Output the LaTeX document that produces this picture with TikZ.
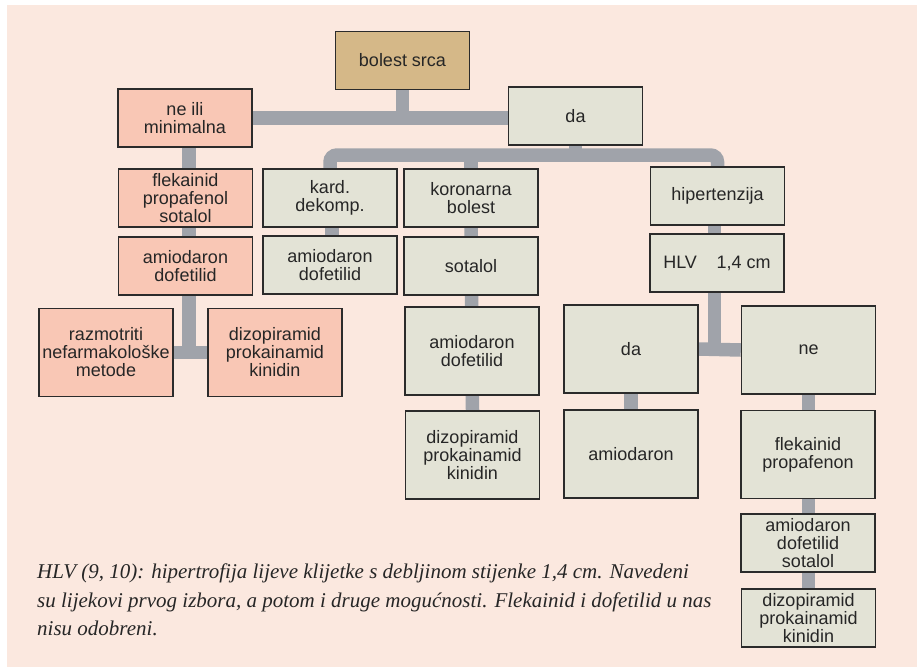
\documentclass[tikz,border=0pt]{standalone}
\usepackage{fontspec}
\setmainfont{Liberation Sans}
\newfontfamily\capfont{Liberation Serif}
\definecolor{bgpeach}{HTML}{FBE8DF}
\definecolor{tan}{HTML}{D5B888}
\definecolor{salmon}{HTML}{F9C7B5}
\definecolor{grbox}{HTML}{E3E3D6}
\definecolor{conncol}{HTML}{A0A3AA}
\definecolor{bordercol}{HTML}{2B2B2B}
\definecolor{txt}{HTML}{262626}
\pgfdeclarelayer{bg}
\pgfdeclarelayer{lines}
\pgfsetlayers{bg,lines,main}
\begin{document}
\begin{tikzpicture}[x=1pt,y=-1pt,
  box/.style={draw=bordercol, line width=1.4pt, inner sep=1pt, align=center,
    font=\fontsize{18}{18}\selectfont, text=txt, minimum width=134pt, minimum height=58pt},
  tall/.style={minimum height=88pt},
  tanbox/.style={box, fill=tan},
  salbox/.style={box, fill=salmon},
  grybox/.style={box, fill=grbox},
  conn/.style={draw=conncol, line width=13.5pt}]
\useasboundingbox (0,0) rectangle (917,667);
\begin{pgfonlayer}{bg}
\fill[bgpeach] (7,5) rectangle (917,667);
\end{pgfonlayer}

% top
\node[tanbox] (bs) at (402.5,60.5) {bolest srca};
\node[salbox] (ne) at (185,118) {ne ili\\minimalna};
\node[grybox] (da) at (575.5,116) {da};

% left branch
\node[salbox] (fps) at (185.5,198) {flekainid\\propafenol\\sotalol};
\node[salbox] (lad) at (185.5,266) {amiodaron\\dofetilid};
\node[salbox, tall] (raz) at (106,352.5) {razmotriti\\nefarmakološke\\metode};
\node[salbox, tall] (ldz) at (275,352.5) {dizopiramid\\prokainamid\\kinidin};

% kard. dekomp.
\node[grybox] (kd) at (330,198) {kard.\\dekomp.};
\node[grybox] (kda) at (330,265) {amiodaron\\dofetilid};

% koronarna bolest
\node[grybox] (kb) at (471,198) {koronarna\\bolest};
\node[grybox] (sot) at (471,266) {sotalol};
\node[grybox, tall] (kam) at (472,351) {amiodaron\\dofetilid};
\node[grybox, tall] (kdz) at (472.5,455) {dizopiramid\\prokainamid\\kinidin};

% hipertenzija
\node[grybox] (hy) at (717.5,196) {hipertenzija};
\node[grybox] (hlv) at (717,263) {HLV\hspace{1.1em}1,4 cm};
\node[grybox, tall] (hda) at (631,349) {da};
\node[grybox, tall] (hne) at (808.5,350) {ne};
\node[grybox, tall] (ham) at (631,454) {amiodaron};
\node[grybox, tall] (hfp) at (808,454.5) {flekainid\\propafenon};
\node[grybox] (has) at (808,543) {amiodaron\\dofetilid\\sotalol};
\node[grybox] (hdz) at (808.5,618) {dizopiramid\\prokainamid\\kinidin};

% caption
\node[anchor=north west, align=left, inner sep=0pt, text=txt,
  font=\capfont\itshape\fontsize{21}{28.5}\selectfont] (cap) at (37,564)
  {HLV (9, 10): hipertrofija lijeve klijetke s debljinom stijenke 1,4 cm. Navedeni\\
   su lijekovi prvog izbora, a potom i druge mogućnosti. Flekainid i dofetilid u nas\\
   nisu odobreni.};

\coordinate (bar) at (0,155);
\begin{pgfonlayer}{lines}
\draw[conn] (bs.south) -- (bs.south |- ne.east);
\draw[conn] (ne.east) -- (ne.east -| da.west);
\draw[conn] (da.south) -- (da.south |- bar);
\draw[conn, rounded corners=7pt] (kd.north) |- (bar -| hy.north) -- (hy.north);
\draw[conn] (kb.north) -- (kb.north |- bar);
\draw[conn] ([xshift=4pt]ne.south) -- ([xshift=4pt]ne.south |- raz.east);
\draw[conn] (raz.east) -- (ldz.west);
\draw[conn] ([xshift=2pt]kd.south) -- ([xshift=2pt]kda.north);
\draw[conn] (kb.south) -- (kdz.north);
\draw[conn] ([xshift=-3pt]hy.south) -- ([xshift=-3pt]hy.south |- hda.east);
\draw[conn] (hda.east) -- (hne.west);
\draw[conn] (hda.south) -- (ham.north);
\draw[conn] (hne.south) -- (hdz.north);
\end{pgfonlayer}
\end{tikzpicture}
\end{document}
